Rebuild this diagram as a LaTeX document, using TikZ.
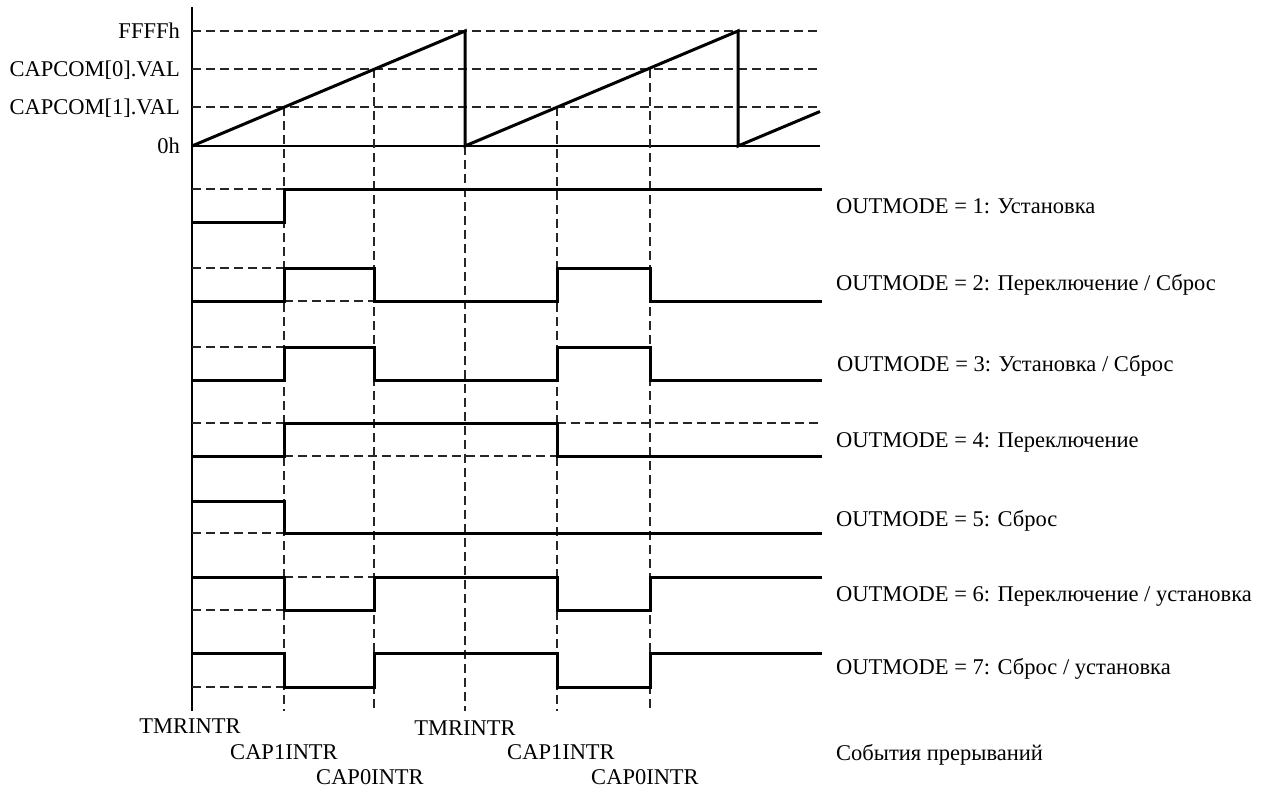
\documentclass[tikz,border=0pt]{standalone}
\usepackage{fontspec}
\setmainfont{Liberation Serif}
\begin{document}
\begin{tikzpicture}[x=1pt,y=-1pt,
  wave/.style={line width=3pt,line cap=rect,line join=miter},
  axisline/.style={line width=1.4pt},
  guide/.style={line width=1.3pt,dash pattern=on 9pt off 5pt,black!85},
  lbl/.style={font=\fontsize{22.5}{27}\selectfont,inner sep=0pt}]
\useasboundingbox (0,0) rectangle (1270,788);
% axes
\draw[axisline] (192,7) -- (192,711);
\draw[axisline] (192,146) -- (820,146);
% level guides
\foreach \y in {31,69,107} \draw[guide] (192,\y) -- (820,\y);
% vertical event guides
\draw[guide] (284,107) -- (284,711);
\draw[guide] (374,69) -- (374,711);
\draw[guide] (465,146) -- (465,711);
\draw[guide] (557,107) -- (557,711);
\draw[guide] (650,69) -- (650,711);
% sawtooth
\draw[wave,line cap=butt] (192,146) -- (465,31) -- (465,146) -- (738,31) -- (738,146) -- (820,111.5);
% row 1
\draw[guide] (192,189) -- (284,189);
\draw[wave] (192,222) -- (284,222) -- (284,189) -- (820,189);
% row 2
\draw[guide] (192,268) -- (284,268);
\draw[guide] (284,301) -- (374,301);
\draw[wave] (192,301) -- (284,301) -- (284,268) -- (374,268) -- (374,301) -- (557,301) -- (557,268) -- (650,268) -- (650,301) -- (820,301);
% row 3
\draw[guide] (192,347) -- (284,347);
\draw[wave] (192,380) -- (284,380) -- (284,347) -- (374,347) -- (374,380) -- (557,380) -- (557,347) -- (650,347) -- (650,380) -- (820,380);
% row 4
\draw[guide] (192,423) -- (284,423);
\draw[guide] (284,456) -- (557,456);
\draw[guide] (557,423) -- (820,423);
\draw[wave] (192,456) -- (284,456) -- (284,423) -- (557,423) -- (557,456) -- (820,456);
% row 5
\draw[guide] (192,533) -- (284,533);
\draw[wave] (192,501) -- (284,501) -- (284,533) -- (820,533);
% row 6
\draw[guide] (192,610) -- (284,610);
\draw[guide] (284,577) -- (374,577);
\draw[wave] (192,577) -- (284,577) -- (284,610) -- (374,610) -- (374,577) -- (557,577) -- (557,610) -- (650,610) -- (650,577) -- (820,577);
% row 7
\draw[guide] (192,687) -- (284,687);
\draw[wave] (192,653) -- (284,653) -- (284,687) -- (374,687) -- (374,653) -- (557,653) -- (557,687) -- (650,687) -- (650,653) -- (820,653);
% left labels
\node[lbl,anchor=base east] (lf) at (180,38.5) {FFFFh};
\node[lbl,anchor=base east] (lc0) at (180,76.5) {CAPCOM[0].VAL};
\node[lbl,anchor=base east] (lc1) at (180,114.5) {CAPCOM[1].VAL};
\node[lbl,anchor=base east] (l0) at (180,153.5) {0h};
% right labels
\node[lbl,anchor=base west] (m1) at (836,213) {OUTMODE = 1: Установка};
\node[lbl,anchor=base west] (m2) at (836,290) {OUTMODE = 2: Переключение / Сброс};
\node[lbl,anchor=base west] (m3) at (837,371) {OUTMODE = 3: Установка / Сброс};
\node[lbl,anchor=base west] (m4) at (836,447) {OUTMODE = 4: Переключение};
\node[lbl,anchor=base west] (m5) at (836,526) {OUTMODE = 5: Сброс};
\node[lbl,anchor=base west] (m6) at (836,601) {OUTMODE = 6: Переключение / установка};
\node[lbl,anchor=base west] (m7) at (836,674) {OUTMODE = 7: Сброс / установка};
\node[lbl,anchor=base west] (ev) at (836,760) {События прерываний};
% bottom labels
\node[lbl,anchor=base] (t1) at (190,733) {TMRINTR};
\node[lbl,anchor=base] (c11) at (284,759) {CAP1INTR};
\node[lbl,anchor=base] (c01) at (370,784) {CAP0INTR};
\node[lbl,anchor=base] (t2) at (465,735) {TMRINTR};
\node[lbl,anchor=base] (c12) at (561,759) {CAP1INTR};
\node[lbl,anchor=base] (c02) at (645,784) {CAP0INTR};
\end{tikzpicture}
\end{document}
